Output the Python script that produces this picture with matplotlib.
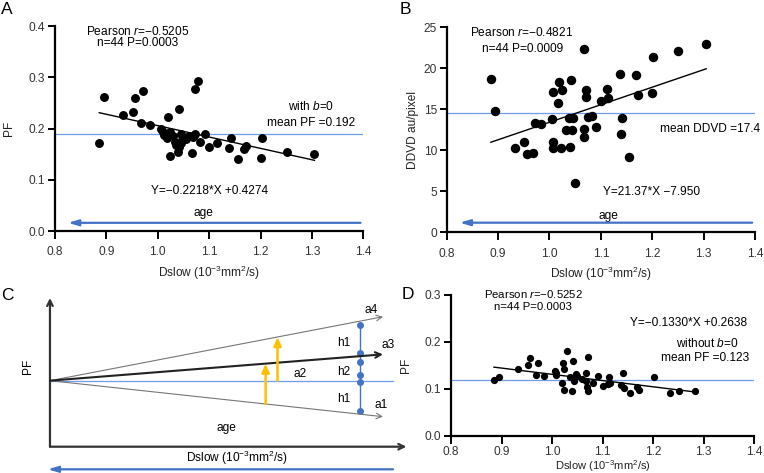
import matplotlib
matplotlib.use('Agg')
import matplotlib.pyplot as plt
import numpy as np

plt.rcParams['font.family'] = ['Liberation Sans', 'DejaVu Sans']
plt.rcParams['mathtext.fontset'] = 'custom'
plt.rcParams['mathtext.rm'] = 'Liberation Sans'
plt.rcParams['mathtext.it'] = 'Liberation Sans:italic'

# panel A: Dslow vs PF (with b=0)
a_x = [0.886, 0.895, 0.932, 0.951, 0.956, 0.972, 0.967, 0.984, 1.007, 1.011,
       1.017, 1.024, 1.020, 1.041, 1.024, 1.033, 1.039, 1.042, 1.046, 1.048,
       1.067, 1.068, 1.072, 1.072, 1.078, 1.083, 1.092, 1.100, 1.115, 1.138,
       1.142, 1.156, 1.168, 1.172, 1.200, 1.202, 1.251, 1.305, 1.030, 1.036,
       1.055, 1.060, 1.013, 1.045]
a_y = [0.171, 0.262, 0.226, 0.232, 0.260, 0.274, 0.210, 0.206, 0.199, 0.193,
       0.182, 0.194, 0.223, 0.238, 0.146, 0.174, 0.155, 0.164, 0.190, 0.177,
       0.153, 0.183, 0.189, 0.277, 0.293, 0.173, 0.189, 0.164, 0.172, 0.162,
       0.181, 0.140, 0.161, 0.166, 0.143, 0.182, 0.155, 0.150, 0.185, 0.168,
       0.180, 0.186, 0.188, 0.171]
a_fit = (-0.2218, 0.4274)
a_mean = 0.189

# panel B: Dslow vs DDVD
b_x = [0.886, 0.894, 0.932, 0.951, 0.956, 0.967, 0.972, 0.983, 1.004, 1.006,
       1.017, 1.019, 1.024, 1.007, 1.007, 1.022, 1.038, 1.042, 1.033, 1.044,
       1.040, 1.050, 1.068, 1.071, 1.071, 1.067, 1.067, 1.075, 1.082, 1.090,
       1.100, 1.112, 1.113, 1.137, 1.142, 1.140, 1.155, 1.168, 1.172, 1.199,
       1.201, 1.251, 1.305, 1.045]
b_y = [18.66, 14.79, 10.28, 11.01, 9.59, 9.71, 13.37, 13.17, 13.78, 17.11,
       15.80, 18.37, 17.32, 10.98, 10.32, 10.24, 13.98, 18.57, 12.48, 12.48,
       10.44, 5.98, 22.35, 17.35, 16.54, 12.60, 11.66, 14.02, 14.18, 12.88,
       16.01, 17.44, 16.41, 19.27, 13.98, 11.99, 9.18, 19.18, 16.74, 17.03,
       21.41, 22.15, 22.96, 13.90]
b_fit = (21.37, -7.950)
b_mean = 14.5

# panel D: Dslow vs PF (without b=0)
d_x = [0.885, 0.895, 0.932, 0.953, 0.956, 0.973, 0.969, 0.984, 1.006, 1.008,
       1.008, 1.019, 1.021, 1.024, 1.030, 1.023, 1.035, 1.039, 1.042, 1.043,
       1.047, 1.050, 1.068, 1.067, 1.069, 1.071, 1.071, 1.081, 1.091, 1.100,
       1.113, 1.114, 1.141, 1.137, 1.142, 1.155, 1.168, 1.172, 1.201, 1.233,
       1.251, 1.282, 1.060, 1.110]
d_y = [0.119, 0.126, 0.142, 0.151, 0.166, 0.156, 0.129, 0.127, 0.138, 0.129,
       0.133, 0.112, 0.156, 0.142, 0.181, 0.097, 0.126, 0.096, 0.159, 0.117,
       0.132, 0.127, 0.133, 0.117, 0.104, 0.096, 0.167, 0.113, 0.127, 0.106,
       0.125, 0.112, 0.133, 0.108, 0.102, 0.090, 0.104, 0.097, 0.125, 0.092,
       0.096, 0.096, 0.121, 0.110]
d_fit = (-0.1330, 0.2638)
d_mean = 0.118

x_ticks = [0.8, 0.9, 1.0, 1.1, 1.2, 1.3, 1.4]
xlabel = r'Dslow (10$^{-3}$mm$^{2}$/s)'

# panel C schematic (axis units 0-1)
c_base = 0.444
c_end = 0.925
c_a4, c_a3, c_a1 = 0.874, 0.621, 0.202
c_hx = 0.861
c_hdots = [0.82, 0.63, 0.572, 0.482, 0.435, 0.242]
c_orange_u = [0.599, 0.632]

blue = '#4472c4'
lblue = '#6f9be8'
orange = '#ffc000'
fs = 8.6

fig = plt.figure(figsize=(7.64, 4.73), dpi=100)


def style(ax, yt, ylab, ylim):
    for s in ['top', 'right']:
        ax.spines[s].set_visible(False)
    for s in ['left', 'bottom']:
        ax.spines[s].set_linewidth(1.6)
    ax.set_xlim(0.8, 1.4)
    ax.set_ylim(*ylim)
    ax.set_xticks(x_ticks)
    ax.set_xticklabels(['%.1f' % t for t in x_ticks])
    ax.set_yticks(yt)
    ax.tick_params(width=1.4, length=5, labelsize=fs, color='black', labelcolor='#333333', pad=2)
    ax.tick_params(axis='x', length=6, pad=5)
    ax.set_xlabel(xlabel, fontsize=fs, color='#222222', labelpad=4)
    ax.set_ylabel(ylab, fontsize=fs, color='#222222')


def scatter_panel(ax, x, y, fit, mean, ms):
    ax.axhline(mean, color=lblue, lw=0.9, zorder=1)
    xx = np.array([min(x), max(x)])
    ax.plot(xx, fit[0] * xx + fit[1], color='black', lw=1.0, zorder=2)
    ax.plot(x, y, 'o', color='black', ms=ms, zorder=3)


# A
axA = fig.add_axes([0.0720, 0.5116, 0.4035, 0.4334])
scatter_panel(axA, a_x, a_y, a_fit, a_mean, 5.4)
style(axA, [0.0, 0.1, 0.2, 0.3, 0.4], 'PF', (0, 0.4))
axA.set_yticklabels(['0.0', '0.1', '0.2', '0.3', '0.4'])
axA.yaxis.set_label_coords(-0.13, 0.5)
axA.text(0.96, 0.389, r'Pearson $r$=−0.5205', ha='center', va='center', fontsize=fs)
axA.text(0.96, 0.367, 'n=44 P=0.0003', ha='center', va='center', fontsize=fs)
axA.text(1.298, 0.242, r'with $b$=0', ha='center', va='center', fontsize=fs)
axA.text(1.298, 0.211, 'mean PF =0.192', ha='center', va='center', fontsize=fs)
axA.text(1.100, 0.079, 'Y=−0.2218*X +0.4274', ha='center', va='center', fontsize=fs)
axA.text(1.089, 0.036, 'age', ha='center', va='center', fontsize=fs)
axA.annotate('', xy=(0.82, 0.016), xytext=(1.4, 0.016), annotation_clip=False,
             arrowprops=dict(arrowstyle='-|>,head_length=0.6,head_width=0.18', color=blue, lw=1.6))

# B
axB = fig.add_axes([0.5847, 0.5089, 0.4035, 0.4334])
scatter_panel(axB, b_x, b_y, b_fit, b_mean, 5.8)
style(axB, [0, 5, 10, 15, 20, 25], 'DDVD au/pixel', (0, 25))
axB.yaxis.set_label_coords(-0.09, 0.5)
axB.text(0.946, 24.4, r'Pearson $r$=−0.4821', ha='center', va='center', fontsize=fs)
axB.text(0.948, 22.3, 'n=44 P=0.0009', ha='center', va='center', fontsize=fs)
axB.text(1.312, 12.56, 'mean DDVD =17.4', ha='center', va='center', fontsize=fs)
axB.text(1.199, 4.95, 'Y=21.37*X −7.950', ha='center', va='center', fontsize=fs)
axB.text(1.114, 1.95, 'age', ha='center', va='center', fontsize=fs)
axB.annotate('', xy=(0.82, 1.17), xytext=(1.4, 1.17), annotation_clip=False,
             arrowprops=dict(arrowstyle='-|>,head_length=0.6,head_width=0.18', color=blue, lw=1.6))

# D
axD = fig.add_axes([0.5903, 0.0789, 0.3970, 0.2975])
scatter_panel(axD, d_x, d_y, d_fit, d_mean, 4.2)
style(axD, [0.0, 0.1, 0.2, 0.3], 'PF', (0, 0.3))
axD.set_yticklabels(['0.0', '0.1', '0.2', '0.3'])
axD.tick_params(axis='x', pad=1.5)
axD.set_xlabel(xlabel, fontsize=8.0, color='#222222')
axD.xaxis.set_label_coords(0.5, -0.16)
axD.yaxis.set_label_coords(-0.13, 0.5)
axD.text(0.963, 0.303, r'Pearson $r$=−0.5252', ha='center', va='center', fontsize=8.2)
axD.text(0.963, 0.274, 'n=44 P=0.0003', ha='center', va='center', fontsize=8.2)
axD.text(1.269, 0.240, 'Y=−0.1330*X +0.2638', ha='center', va='center', fontsize=fs)
axD.text(1.307, 0.197, r'without $b$=0', ha='center', va='center', fontsize=fs)
axD.text(1.302, 0.165, 'mean PF =0.123', ha='center', va='center', fontsize=fs)

# C schematic
axC = fig.add_axes([0.0654, 0.0556, 0.4712, 0.3144])
axC.set_xlim(0, 1)
axC.set_ylim(0, 1)
axC.axis('off')
ak = dict(annotation_clip=False)
axC.annotate('', xy=(0, 1.0), xytext=(0, 0), arrowprops=dict(arrowstyle='->', color='#333333', lw=1.6, shrinkA=0, shrinkB=0), **ak)
axC.annotate('', xy=(0.99, 0), xytext=(0, 0), arrowprops=dict(arrowstyle='->', color='#333333', lw=1.6, shrinkA=0, shrinkB=0), **ak)
axC.plot([0, 0.953], [c_base, c_base], color=lblue, lw=0.9)
axC.annotate('', xy=(c_end, c_a4), xytext=(0, c_base), arrowprops=dict(arrowstyle='->', color='#777777', lw=0.8, shrinkA=0, shrinkB=0), **ak)
axC.annotate('', xy=(c_end, c_a1), xytext=(0, c_base), arrowprops=dict(arrowstyle='->', color='#777777', lw=0.8, shrinkA=0, shrinkB=0), **ak)
axC.annotate('', xy=(c_end, c_a3), xytext=(0, c_base), arrowprops=dict(arrowstyle='->', color='#222222', lw=1.5, shrinkA=0, shrinkB=0), **ak)


def line_at(u, end):
    return c_base + (end - c_base) * u / c_end


axC.annotate('', xy=(c_orange_u[0], line_at(c_orange_u[0], c_a3)), xytext=(c_orange_u[0], line_at(c_orange_u[0], c_a1)),
             arrowprops=dict(arrowstyle='-|>,head_length=0.5,head_width=0.22', color=orange, lw=1.8, shrinkA=0, shrinkB=0))
axC.annotate('', xy=(c_orange_u[1], line_at(c_orange_u[1], c_a4)), xytext=(c_orange_u[1], c_base),
             arrowprops=dict(arrowstyle='-|>,head_length=0.5,head_width=0.22', color=orange, lw=1.8, shrinkA=0, shrinkB=0))
axC.plot([c_hx, c_hx], [min(c_hdots), max(c_hdots)], color=blue, lw=1.0)
axC.plot([c_hx] * len(c_hdots), c_hdots, 'o', color=blue, ms=4)
for lab, u, v in [('a4', 0.893, 0.919), ('a3', 0.939, 0.684), ('a2', 0.694, 0.487), ('a1', 0.919, 0.280),
                  ('h1', 0.815, 0.695), ('h2', 0.815, 0.504), ('h1', 0.815, 0.321), ('age', 0.489, 0.124)]:
    axC.text(u, v, lab, ha='center', va='center', fontsize=fs, clip_on=False)
axC.text(-0.060, 0.538, 'PF', rotation=90, ha='center', va='center', fontsize=fs)
axC.text(0.520, -0.074, xlabel, ha='center', va='center', fontsize=fs)
axC.annotate('', xy=(-0.006, -0.152), xytext=(0.953, -0.152), annotation_clip=False,
             arrowprops=dict(arrowstyle='-|>,head_length=0.6,head_width=0.18', color=blue, lw=1.6, shrinkA=0, shrinkB=0))

# panel letters
for lab, px, py in [('A', 7, 9), ('B', 405, 9), ('C', 7, 295), ('D', 408, 294)]:
    fig.text(px / 764, 1 - py / 473, lab, fontsize=12.5, ha='center', va='center')

fig.savefig('out.png', dpi=100)
